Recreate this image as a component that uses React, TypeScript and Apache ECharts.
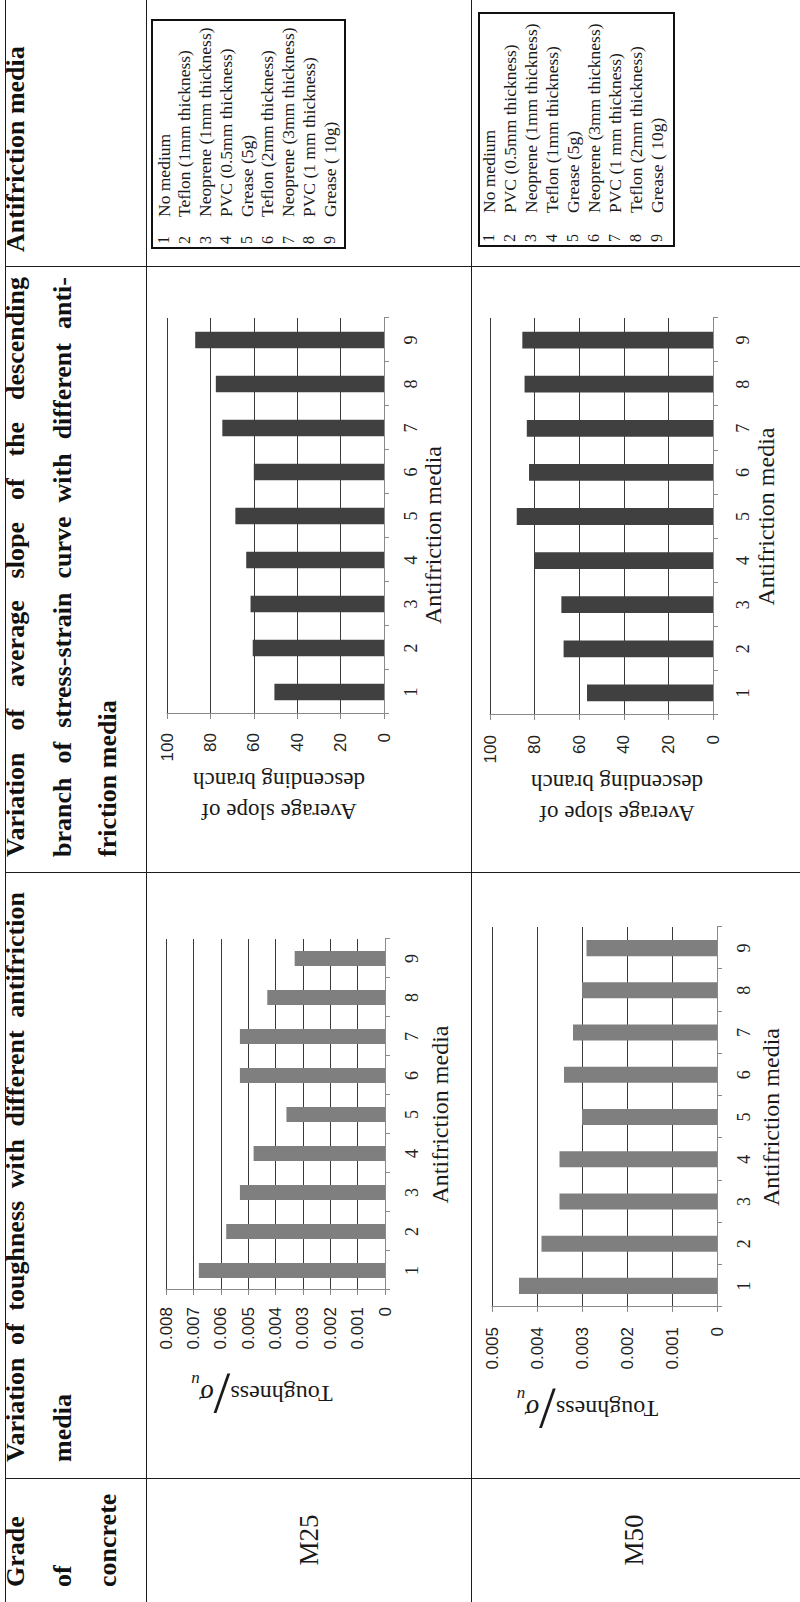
import React, { useEffect, useRef } from "react";
import * as echarts from "echarts";

// ---------- data ----------
const categories = ["1", "2", "3", "4", "5", "6", "7", "8", "9"];

const toughnessM25 = [0.0068, 0.0058, 0.0053, 0.0048, 0.0036, 0.0053, 0.0053, 0.0043, 0.0033];
const slopeM25 = [50.5, 60.5, 61.5, 63.5, 68.5, 60, 74.5, 77.5, 87];
const toughnessM50 = [0.0044, 0.0039, 0.0035, 0.0035, 0.003, 0.0034, 0.0032, 0.003, 0.0029];
const slopeM50 = [56.5, 67, 68, 80, 88, 82.5, 83.5, 84.5, 85.5];

const toughnessTicksM25 = [0, 0.001, 0.002, 0.003, 0.004, 0.005, 0.006, 0.007, 0.008];
const toughnessTicksM50 = [0, 0.001, 0.002, 0.003, 0.004, 0.005];
const slopeTicks = [0, 20, 40, 60, 80, 100];

const mediaM25 = [
  "No medium",
  "Teflon (1mm thickness)",
  "Neoprene (1mm thickness)",
  "PVC (0.5mm thickness)",
  "Grease (5g)",
  "Teflon (2mm thickness)",
  "Neoprene (3mm thickness)",
  "PVC (1 mm thickness)",
  "Grease ( 10g)",
];
const mediaM50 = [
  "No medium",
  "PVC (0.5mm thickness)",
  "Neoprene (1mm thickness)",
  "Teflon (1mm thickness)",
  "Grease (5g)",
  "Neoprene (3mm thickness)",
  "PVC (1 mm thickness)",
  "Teflon (2mm thickness)",
  "Grease ( 10g)",
];

const headerGrade = ["Grade", "of", "concrete"];
const headerToughness = ["Variation of toughness with different antifriction", "media"];
const headerSlope = [
  "Variation of average slope of the descending",
  "branch of stress-strain curve with different anti-",
  "friction media",
];
const headerMedia = ["Antifriction media"];
const grades = ["M25", "M50"];
const xAxisTitle = "Antifriction media";
const slopeTitle = "Average slope of\ndescending branch";

// ---------- styling ----------
const serif = '"Liberation Serif", "Times New Roman", serif';
const sans = '"Liberation Sans", Arial, sans-serif';
const LINE = "#1c1c1c";

const toughRich = {
  t: { fontFamily: serif, fontSize: 24, color: "#1a1a1a", verticalAlign: "middle" },
  s: { fontFamily: serif, fontSize: 60, color: "#1a1a1a", lineHeight: 44, verticalAlign: "middle" },
  g: { fontFamily: serif, fontSize: 28, fontStyle: "italic", color: "#1a1a1a", verticalAlign: "middle" },
  u: { fontFamily: serif, fontSize: 17, fontStyle: "italic", color: "#1a1a1a", lineHeight: 30, verticalAlign: "bottom" },
};

const charts = [
  {
    grid: { left: 312, top: 166, width: 351, height: 219 },
    data: toughnessM25, ticks: toughnessTicksM25, color: "#7f7f7f", decimals: 3,
    name: "{t|Toughness}{s|/}{g|σ}{u|u}", rich: toughRich, nameGap: 82, namePad: [0, 0, 0, 27],
    labelMargin: 17, xLabelMargin: 18, xNameGap: 43, xNamePad: [0, 0, 0, 0],
  },
  {
    grid: { left: 888, top: 167, width: 396, height: 217 },
    data: slopeM25, ticks: slopeTicks, color: "#404040", decimals: 0,
    name: slopeTitle, rich: null, nameGap: 48, namePad: [0, 7, 0, 0],
    labelMargin: 19, xLabelMargin: 18, xNameGap: 37, xNamePad: [0, 38, 0, 0],
  },
  {
    grid: { left: 295, top: 492, width: 380, height: 225 },
    data: toughnessM50, ticks: toughnessTicksM50, color: "#7f7f7f", decimals: 3,
    name: "{t|Toughness}{s|/}{g|σ}{u|u}", rich: toughRich, nameGap: 80, namePad: [0, 0, 0, 34],
    labelMargin: 20, xLabelMargin: 18, xNameGap: 42, xNamePad: [0, 0, 0, 0],
  },
  {
    grid: { left: 887, top: 490, width: 397, height: 223 },
    data: slopeM50, ticks: slopeTicks, color: "#404040", decimals: 0,
    name: slopeTitle, rich: null, nameGap: 50, namePad: [0, 31, 0, 0],
    labelMargin: 20, xLabelMargin: 21, xNameGap: 41, xNamePad: [0, 0, 0, 0],
  },
];

const legends = [
  { items: mediaM25, x: 1354, y: 152, w: 228, h: 193, first: 11.5, step: 20.75, textX: 31 },
  { items: mediaM50, x: 1356, y: 479, w: 233, h: 195, first: 9.5, step: 21, textX: 33 },
];

function buildOption() {
  const graphic: any[] = [];
  legends.forEach((lg) => {
    const children: any[] = [
      { type: "rect", shape: { x: 0, y: 0, width: lg.w, height: lg.h }, style: { fill: "none", stroke: "#111", lineWidth: 2 } },
    ];
    lg.items.forEach((txt, i) => {
      const cy = lg.first + i * lg.step;
      children.push({
        type: "text", x: 4, y: cy,
        style: { text: String(i + 1), fontFamily: serif, fontSize: 16, fill: "#1a1a1a", verticalAlign: "middle", align: "left" },
      });
      children.push({
        type: "text", x: lg.textX, y: cy,
        style: { text: txt, fontFamily: serif, fontSize: 17.5, fill: "#1a1a1a", verticalAlign: "middle", align: "left" },
      });
    });
    graphic.push({ type: "group", x: lg.x, y: lg.y, children });
  });
  const gradeY = [309, 634];
  grades.forEach((g, i) => {
    graphic.push({
      type: "text", x: 62, y: gradeY[i],
      style: { text: g, fontFamily: serif, fontSize: 27, fill: "#1a1a1a", align: "center", verticalAlign: "middle" },
    });
  });

  return {
    animation: false,
    backgroundColor: "transparent",
    grid: charts.map((c) => ({ ...c.grid, containLabel: false })),
    xAxis: charts.map((c, i) => ({
      type: "category",
      gridIndex: i,
      data: categories,
      boundaryGap: true,
      axisLine: { show: true, lineStyle: { color: "#8a8a8a", width: 1 } },
      axisTick: { show: true, length: 5, lineStyle: { color: "#8a8a8a" } },
      axisLabel: { fontFamily: serif, fontSize: 18, color: "#222", margin: c.xLabelMargin, lineHeight: 18 },
      name: xAxisTitle,
      nameLocation: "middle",
      nameGap: c.xNameGap,
      nameTextStyle: { fontFamily: serif, fontSize: 24, color: "#1a1a1a", lineHeight: 24, padding: c.xNamePad },
    })),
    yAxis: charts.map((c, i) => ({
      type: "value",
      gridIndex: i,
      min: c.ticks[0],
      max: c.ticks[c.ticks.length - 1],
      interval: c.ticks[1] - c.ticks[0],
      axisLine: { show: true, lineStyle: { color: "#8a8a8a", width: 1 } },
      axisTick: { show: true, length: 5, lineStyle: { color: "#8a8a8a" } },
      splitLine: { show: true, lineStyle: { color: "#3a3a3a", width: 1 } },
      axisLabel: {
        fontFamily: sans, fontSize: 17, color: "#222", margin: c.labelMargin,
        formatter: (v: number) => (v === 0 ? "0" : v.toFixed(c.decimals)),
      },
      name: c.name,
      nameLocation: "middle",
      nameGap: c.nameGap,
      nameTextStyle: c.rich
        ? { rich: c.rich, padding: c.namePad }
        : { fontFamily: serif, fontSize: 23, color: "#1a1a1a", lineHeight: 31, padding: c.namePad },
    })),
    series: charts.map((c, i) => ({
      type: "bar",
      xAxisIndex: i,
      yAxisIndex: i,
      data: c.data,
      barWidth: "38%",
      itemStyle: { color: c.color },
    })),
    graphic,
  };
}

const headFont = `bold 26px ${serif}`;
const lineTops = [1, 48, 93];

function HeaderLines({ lines, left, width, justifyLast }: { lines: string[]; left: number; width: number; justifyLast?: boolean }) {
  return (
    <>
      {lines.map((ln, i) => {
        const justify = width > 0 && (i < lines.length - 1 || justifyLast);
        return (
          <div
            key={i}
            style={{
              position: "absolute",
              left,
              top: lineTops[i],
              width: justify ? width : undefined,
              height: 46,
              lineHeight: "46px",
              font: headFont,
              color: "#111",
              whiteSpace: "nowrap",
              display: "flex",
              justifyContent: justify ? "space-between" : "flex-start",
            }}
          >
            {justify ? ln.split(" ").map((w, k) => <span key={k}>{w}</span>) : <span>{ln}</span>}
          </div>
        );
      })}
    </>
  );
}

export default function App() {
  const ref = useRef<HTMLDivElement>(null);
  useEffect(() => {
    document.body.style.margin = "0";
    const chart = echarts.init(ref.current!, null, { renderer: "svg" });
    chart.setOption(buildOption() as any);
    return () => chart.dispose();
  }, []);

  const hLine = (top: number) => (
    <div style={{ position: "absolute", left: 0, top, width: 1602, height: 0, borderTop: `1.5px solid ${LINE}` }} />
  );
  const vLine = (left: number) => (
    <div style={{ position: "absolute", left, top: 5, width: 0, height: 795, borderLeft: `1.5px solid ${LINE}` }} />
  );

  return (
    <div style={{ position: "absolute", left: 0, top: 0, width: 800, height: 1602, overflow: "hidden", background: "#fff" }}>
      <div
        style={{
          position: "absolute",
          left: 0,
          top: 0,
          width: 1602,
          height: 800,
          transformOrigin: "0 0",
          transform: "translate(0px, 1602px) rotate(-90deg)",
        }}
      >
        {hLine(5)}
        {hLine(146)}
        {hLine(471)}
        {vLine(123)}
        {vLine(729)}
        {vLine(1335)}
        <HeaderLines lines={headerGrade} left={15} width={0} />
        <HeaderLines lines={headerToughness} left={140} width={570} />
        <HeaderLines lines={headerSlope} left={745} width={580} />
        <HeaderLines lines={headerMedia} left={1350} width={0} />
        <div ref={ref} style={{ position: "absolute", left: 0, top: 0, width: 1602, height: 800 }} />
      </div>
    </div>
  );
}
